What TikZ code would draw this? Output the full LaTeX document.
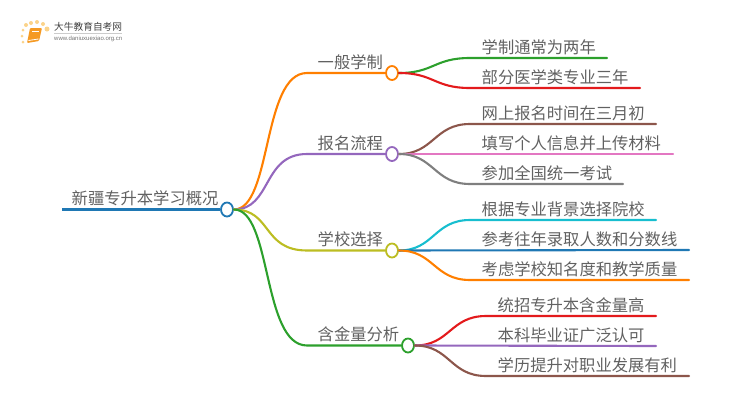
\documentclass[tikz,border=0pt]{standalone}
\usepackage{fontspec}
\setmainfont{Noto Sans CJK SC}
\setsansfont{Liberation Sans}
\usepackage{tikz}
\usetikzlibrary{shapes.geometric}
\definecolor{rootblue}{HTML}{1F78B4}
\definecolor{mporange}{HTML}{FF7F00}
\definecolor{mppurple}{HTML}{9467BD}
\definecolor{mpolive}{HTML}{BCBD22}
\definecolor{mpgreen}{HTML}{2CA02C}
\definecolor{mpred}{HTML}{E31A1C}
\definecolor{mpbrown}{HTML}{8C564B}
\definecolor{mppink}{HTML}{E377C2}
\definecolor{mpgray}{HTML}{7F7F7F}
\definecolor{mpcyan}{HTML}{17BECF}
\definecolor{booktone}{HTML}{F59A23}
\definecolor{dottone}{HTML}{FBD38A}
\tikzset{
  hub/.style={ellipse, draw, fill=white, line width=1.8pt, minimum width=12pt, minimum height=14pt, inner sep=0pt},
  wire/.style={line width=2.1pt, line cap=round},
  lbl/.style={anchor=base west, inner sep=0pt, text=black!62, font=\fontsize{16.3}{16.3}\selectfont},
  dot/.style={circle, fill=dottone, inner sep=0pt}
}
\begin{document}
\begin{tikzpicture}[x=1pt,y=-1pt]
  \useasboundingbox (0,0) rectangle (750,410);
  % logo
  \node[dot, minimum size=3pt] (d1) at (23,42) {};
  \node[dot, minimum size=3pt] (d2) at (22,36) {};
  \node[dot, minimum size=3pt] (d3) at (23,30) {};
  \node[dot, minimum size=4pt] (d4) at (26,25) {};
  \node[dot, minimum size=4pt] (d5) at (31,23) {};
  \node[dot, minimum size=4pt] (d6) at (37,22) {};
  \node[dot, minimum size=4pt] (d7) at (43,24) {};
  \node[dot, minimum size=5pt] (d8) at (47,29) {};
  \fill[booktone, rounded corners=1pt] (30,28) -- (42,28) -- (39,41) -- (27,43) -- cycle;
  \draw[white, line width=0.6pt] (32,31) -- (39,31);
  \draw[white, line width=0.8pt] (28.5,40.5) -- (38.5,39);
  \node[anchor=west, inner sep=0pt, text=black!75, font=\fontsize{9.7}{9.7}\selectfont] (logotitle) at (54,27) {大牛教育自考网};
  \node[anchor=west, inner sep=0pt, text=black!55, font=\sffamily\fontsize{6}{6}\selectfont] (logourl) at (54,39) {www.daniuxuexiao.org.cn};
  \draw[black!20, line width=0.5pt] (54,33) -- (122,33);

  % hubs
  \node[hub, draw=rootblue] (root) at (227,209.5) {};
  \node[hub, draw=mporange] (xuezhi) at (392,73) {};
  \node[hub, draw=mppurple] (baoming) at (392,154) {};
  \node[hub, draw=mpolive] (xuexiao) at (392,250.5) {};
  \node[hub, draw=mpgreen] (hanjin) at (408,345.5) {};

  % labels
  \node[lbl] (roottxt) at (71.5,204) {新疆专升本学习概况};
  \node[lbl] (xuezhitxt) at (317.5,68) {一般学制};
  \node[lbl] (baomingtxt) at (317.5,149) {报名流程};
  \node[lbl] (xuexiaotxt) at (317.5,245) {学校选择};
  \node[lbl] (hanjintxt) at (317.5,340) {含金量分析};
  \node[lbl] (a1) at (481.5,53) {学制通常为两年};
  \node[lbl] (a2) at (481.5,83) {部分医学类专业三年};
  \node[lbl] (b1) at (481.5,119) {网上报名时间在三月初};
  \node[lbl] (b2) at (481.5,149) {填写个人信息并上传材料};
  \node[lbl] (b3) at (481.5,179) {参加全国统一考试};
  \node[lbl] (c1) at (481.5,215) {根据专业背景选择院校};
  \node[lbl] (c2) at (481.5,245) {参考往年录取人数和分数线};
  \node[lbl] (c3) at (481.5,275) {考虑学校知名度和教学质量};
  \node[lbl] (d1t) at (497.5,311) {统招专升本含金量高};
  \node[lbl] (d2t) at (497.5,341) {本科毕业证广泛认可};
  \node[lbl] (d3t) at (497.5,371) {学历提升对职业发展有利};

  % line ends
  \coordinate (rootstart) at (62,209.5);
  \coordinate (a1end) at (607,58);
  \coordinate (a2end) at (640,88);
  \coordinate (b1end) at (656,124);
  \coordinate (b2end) at (673,154);
  \coordinate (b3end) at (623,184);
  \coordinate (c1end) at (656,220);
  \coordinate (c2end) at (689,250);
  \coordinate (c3end) at (689,280);
  \coordinate (d1end) at (656,316);
  \coordinate (d2end) at (656,346);
  \coordinate (d3end) at (689,376);

  % root and branches
  \draw[line width=2.6pt, rootblue] (rootstart) -- (root.west);
  \draw[wire, mporange] (root.east) .. controls (272,209.5) and (262,73) .. (307,73) -- (xuezhi.west);
  \draw[wire, mppurple] (root.east) .. controls (272,209.5) and (262,154) .. (307,154) -- (baoming.west);
  \draw[wire, mpolive] (root.east) .. controls (272,209.5) and (262,250.5) .. (307,250.5) -- (xuexiao.west);
  \draw[wire, mpgreen] (root.east) .. controls (272,209.5) and (262,345.5) .. (307,345.5) -- (hanjin.west);

  % leaves
  \draw[wire, mpgreen] (xuezhi.east) .. controls (434,73) and (434,58) .. (470,58) -- (a1end);
  \draw[wire, mpred] (xuezhi.east) .. controls (434,73) and (434,88) .. (470,88) -- (a2end);
  \draw[wire, mpbrown] (baoming.east) .. controls (434,154) and (434,124) .. (470,124) -- (b1end);
  \draw[wire, mppink] (baoming.east) -- (b2end);
  \draw[wire, mpgray] (baoming.east) .. controls (434,154) and (434,184) .. (470,184) -- (b3end);
  \draw[wire, mpcyan] (xuexiao.east) .. controls (434,250.5) and (434,220) .. (470,220) -- (c1end);
  \draw[wire, rootblue] (xuexiao.east) -- (c2end);
  \draw[wire, mporange] (xuexiao.east) .. controls (434,250.5) and (434,280) .. (470,280) -- (c3end);
  \draw[wire, mpred] (hanjin.east) .. controls (450,345.5) and (450,316) .. (486,316) -- (d1end);
  \draw[wire, mppurple] (hanjin.east) -- (d2end);
  \draw[wire, mpbrown] (hanjin.east) .. controls (450,345.5) and (450,376) .. (486,376) -- (d3end);
\end{tikzpicture}
\end{document}
